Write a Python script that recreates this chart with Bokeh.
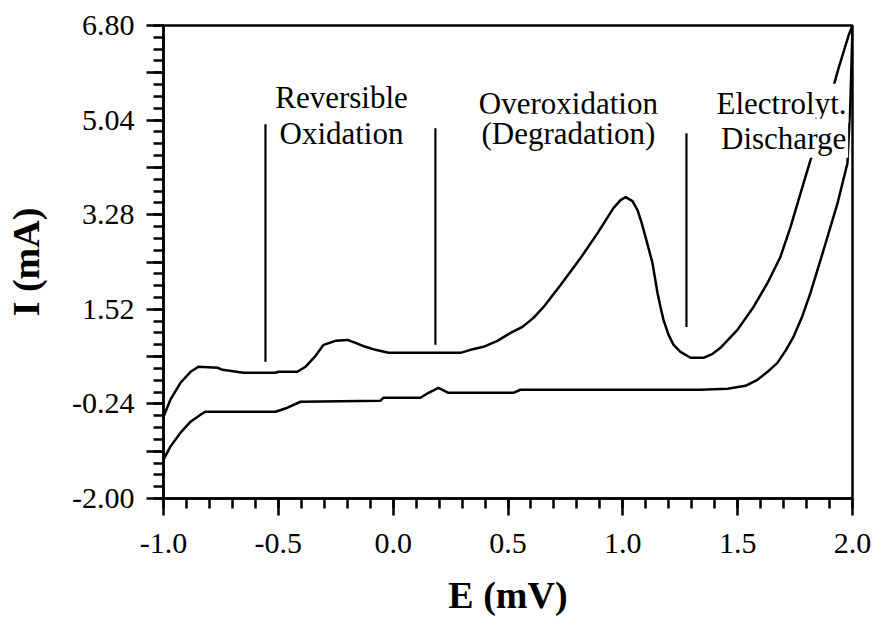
from bokeh.plotting import figure
from bokeh.models import Range1d, FixedTicker, Label, ColumnDataSource
from bokeh.embed import file_html
from bokeh.resources import INLINE

# ---- data ----
upper_E = [-1.000, -0.970, -0.926, -0.882, -0.848, -0.765, -0.743, -0.652, -0.512, -0.499,
           -0.417, -0.382, -0.338, -0.303, -0.251, -0.199, -0.164, -0.121, -0.077, -0.020,
           0.119, 0.293, 0.337, 0.393, 0.454, 0.511, 0.563, 0.611, 0.655, 0.685,
           0.729, 0.816, 0.890, 0.959, 0.990, 1.012, 1.042, 1.064, 1.081, 1.099,
           1.129, 1.151, 1.164, 1.177, 1.199, 1.221, 1.251, 1.295, 1.351, 1.391,
           1.425, 1.499, 1.569, 1.630, 1.686, 1.730, 1.774, 1.817, 1.882, 1.939,
           1.983, 2.000]
upper_I = [-0.478, -0.162, 0.153, 0.357, 0.450, 0.432, 0.394, 0.339, 0.339, 0.357,
           0.357, 0.450, 0.654, 0.859, 0.933, 0.951, 0.896, 0.822, 0.766, 0.710,
           0.710, 0.710, 0.766, 0.822, 0.933, 1.081, 1.193, 1.360, 1.564, 1.731,
           1.973, 2.474, 2.938, 3.402, 3.551, 3.607, 3.532, 3.365, 3.142, 2.864,
           2.381, 1.824, 1.564, 1.323, 1.044, 0.859, 0.729, 0.618, 0.618, 0.692,
           0.803, 1.137, 1.564, 2.010, 2.492, 3.050, 3.681, 4.294, 5.129, 6.002,
           6.614, 6.800]

lower_E = [-1.000, -0.970, -0.926, -0.882, -0.839, -0.817, -0.512, -0.460, -0.403, -0.055,
           -0.042, 0.119, 0.154, 0.197, 0.241, 0.524, 0.554, 1.338, 1.456, 1.534,
           1.586, 1.630, 1.673, 1.708, 1.743, 1.782, 1.817, 1.874, 1.935, 1.978,
           1.991, 2.000]
lower_I = [-1.276, -1.035, -0.775, -0.571, -0.441, -0.385, -0.385, -0.311, -0.200, -0.181,
           -0.125, -0.125, -0.033, 0.060, -0.033, -0.033, 0.023, 0.023, 0.042, 0.097,
           0.209, 0.357, 0.524, 0.747, 1.007, 1.397, 1.824, 2.623, 3.495, 4.238,
           5.407, 6.744]

# region separators: E position, bottom I, top I
sep_E = [-0.556, 0.184, 1.277]
sep_I0 = [0.543, 0.859, 1.193]
sep_I1 = [4.962, 4.888, 4.795]

# annotations
ann_text = ["Reversible", "Oxidation", "Overoxidation", "(Degradation)", "Electrolyt.", "Discharge"]
ann_E = [-0.225, -0.225, 0.763, 0.763, 1.691, 1.700]
ann_I = [5.463, 4.795, 5.352, 4.795, 5.352, 4.702]

x_major = [-1.0, -0.5, 0.0, 0.5, 1.0, 1.5, 2.0]
y_labels = ["-2.00", "-0.24", "1.52", "3.28", "5.04", "6.80"]

FONT = "Liberation Serif"

p = figure(width=876, height=618, output_backend="svg", toolbar_location=None,
           x_range=Range1d(-1.0, 2.0), y_range=Range1d(-2.0, 6.8),
           min_border_left=163, min_border_right=24, min_border_top=25, min_border_bottom=119)
p.grid.visible = False
p.outline_line_color = "black"
p.outline_line_width = 2.5
p.outline_line_alpha = 1.0
p.background_fill_color = "white"
p.border_fill_color = "white"

p.line(upper_E, upper_I, line_color="black", line_width=2.5)
p.line(lower_E, lower_I, line_color="black", line_width=2.5)

src = ColumnDataSource(dict(x=sep_E, y0=sep_I0, y1=sep_I1))
p.segment(x0="x", y0="y0", x1="x", y1="y1", source=src, line_color="black", line_width=2.2)

for t, xe, yi in zip(ann_text, ann_E, ann_I):
    p.add_layout(Label(x=xe, y=yi, text=t, text_align="center", text_baseline="alphabetic",
                       text_font=FONT, text_font_size="31px", text_color="black",
                       background_fill_color="white", padding=2))

# x axis
xa = p.xaxis[0]
minor_x = [round(-1.0 + 0.1 * i, 2) for i in range(31)]
xa.ticker = FixedTicker(ticks=x_major, minor_ticks=minor_x)
xa.major_label_overrides = {v: f"{v:.1f}" for v in x_major}
xa.axis_label = "E (mV)"

# y axis
ya = p.yaxis[0]
y_vals = [float(s) for s in y_labels]
y_major = []
for i in range(len(y_vals) - 1):
    y_major.append(y_vals[i])
    y_major.append(round((y_vals[i] + y_vals[i + 1]) / 2, 2))
y_major.append(y_vals[-1])
minor_y = [round(-2.0 + 0.22 * i, 2) for i in range(41)]
ya.ticker = FixedTicker(ticks=y_major, minor_ticks=minor_y)
ov = {}
for v in y_major:
    ov[v] = ""
for s, v in zip(y_labels, y_vals):
    ov[v] = s
ya.major_label_overrides = ov
ya.axis_label = "I (mA)"

for ax in (xa, ya):
    ax.axis_line_color = "black"
    ax.axis_line_width = 2.5
    ax.major_tick_line_color = "black"
    ax.major_tick_line_width = 2.5
    ax.minor_tick_line_color = "black"
    ax.minor_tick_line_width = 2.5
    ax.major_tick_in = 0
    ax.major_tick_out = 17
    ax.minor_tick_in = 0
    ax.minor_tick_out = 10
    ax.major_label_text_font = FONT
    ax.major_label_text_font_size = "30px"
    ax.major_label_text_color = "black"
    ax.axis_label_text_font = FONT
    ax.axis_label_text_font_style = "bold"
    ax.axis_label_text_font_size = "38px"
    ax.axis_label_text_color = "black"

xa.major_label_standoff = 18
xa.axis_label_standoff = 18
ya.major_label_standoff = 12
ya.axis_label_standoff = 22

open("out.html", "w").write(file_html(p, INLINE))
